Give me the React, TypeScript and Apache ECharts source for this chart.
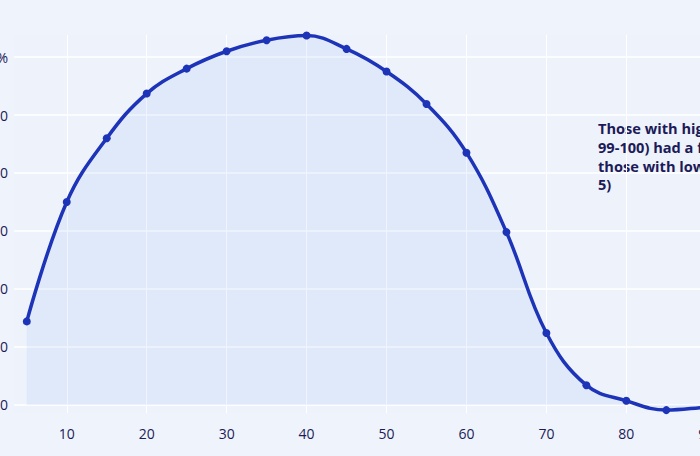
import React, { useEffect, useRef } from "react";
import * as echarts from "echarts";

const xValues = [5, 10, 15, 20, 25, 30, 35, 40, 45, 50, 55, 60, 65, 70, 75, 80, 85, 90, 95, 100];
const yValues = [14.4, 35.0, 46.0, 53.7, 58.0, 61.0, 62.9, 63.7, 61.4, 57.5, 51.9, 43.5, 29.8, 12.4, 3.4, 0.7, -0.9, -0.4, 0.0, 0.2];
const yTickLabels: Record<number, string> = { 0: "0", 10: "10", 20: "20", 30: "30", 40: "40", 50: "50", 60: "60%" };
const annotationLines = [
  "Those with highest scores (percentile",
  "99-100) had a far lower rate than",
  "those with lowest scores (percentile 1-",
  "5)",
];

export default function App() {
  const ref = useRef<HTMLDivElement>(null);
  useEffect(() => {
    if (!ref.current) return;
    const chart = echarts.init(ref.current, undefined, { renderer: "svg" });
    const textColor = "#1c1a58";
    chart.setOption({
      animation: false,
      backgroundColor: "#eff4fc",
      grid: {
        left: 14,
        right: 1,
        top: 35,
        bottom: 43,
        containLabel: false,
        outerBoundsMode: "none",
        show: true,
        backgroundColor: "#edf2fb",
        borderWidth: 0,
      },
      xAxis: {
        type: "value",
        min: 3.4,
        max: 101.6,
        minInterval: 10,
        maxInterval: 10,
        axisLine: { show: false },
        axisTick: { show: false },
        splitLine: { show: true, showMinLine: false, showMaxLine: false, lineStyle: { color: "#ffffff", width: 1 } },
        axisLabel: {
          showMinLabel: false,
          showMaxLabel: false,
          color: textColor,
          fontFamily: "Open Sans",
          fontSize: 14,
          margin: 13,
        },
      },
      yAxis: {
        type: "value",
        min: -1.4,
        max: 63.8,
        minInterval: 10,
        maxInterval: 10,
        axisLine: { show: false },
        axisTick: { show: false },
        splitLine: { show: true, showMinLine: false, showMaxLine: false, lineStyle: { color: "#ffffff", width: 1.5 } },
        axisLabel: {
          showMinLabel: false,
          showMaxLabel: false,
          color: textColor,
          fontFamily: "Open Sans",
          fontSize: 14,
          margin: 6,
          formatter: (v: number) => yTickLabels[Math.round(v)] ?? "",
        },
      },
      series: [
        {
          type: "line",
          data: xValues.map((x, i) => [x, yValues[i]]),
          smooth: 0.4,
          symbol: "circle",
          symbolSize: 8,
          lineStyle: { color: "#1e34b8", width: 3.5 },
          itemStyle: { color: "#1e34b8" },
          areaStyle: { color: "rgba(120,165,240,0.16)", origin: 0 },
        },
      ],
      graphic: [
        {
          type: "text",
          left: 598,
          top: 119,
          style: {
            text: annotationLines.join("\n"),
            fill: textColor,
            font: "bold 14.6px 'Open Sans'",
            lineHeight: 18.7,
          },
        },
      ],
    });
    return () => chart.dispose();
  }, []);
  return (
    <div style={{ position: "fixed", left: 0, top: 0, width: 700, height: 456, overflow: "hidden", background: "#eff4fc" }}>
      <div ref={ref} style={{ position: "absolute", left: 0, top: 0, width: 800, height: 456 }} />
    </div>
  );
}
